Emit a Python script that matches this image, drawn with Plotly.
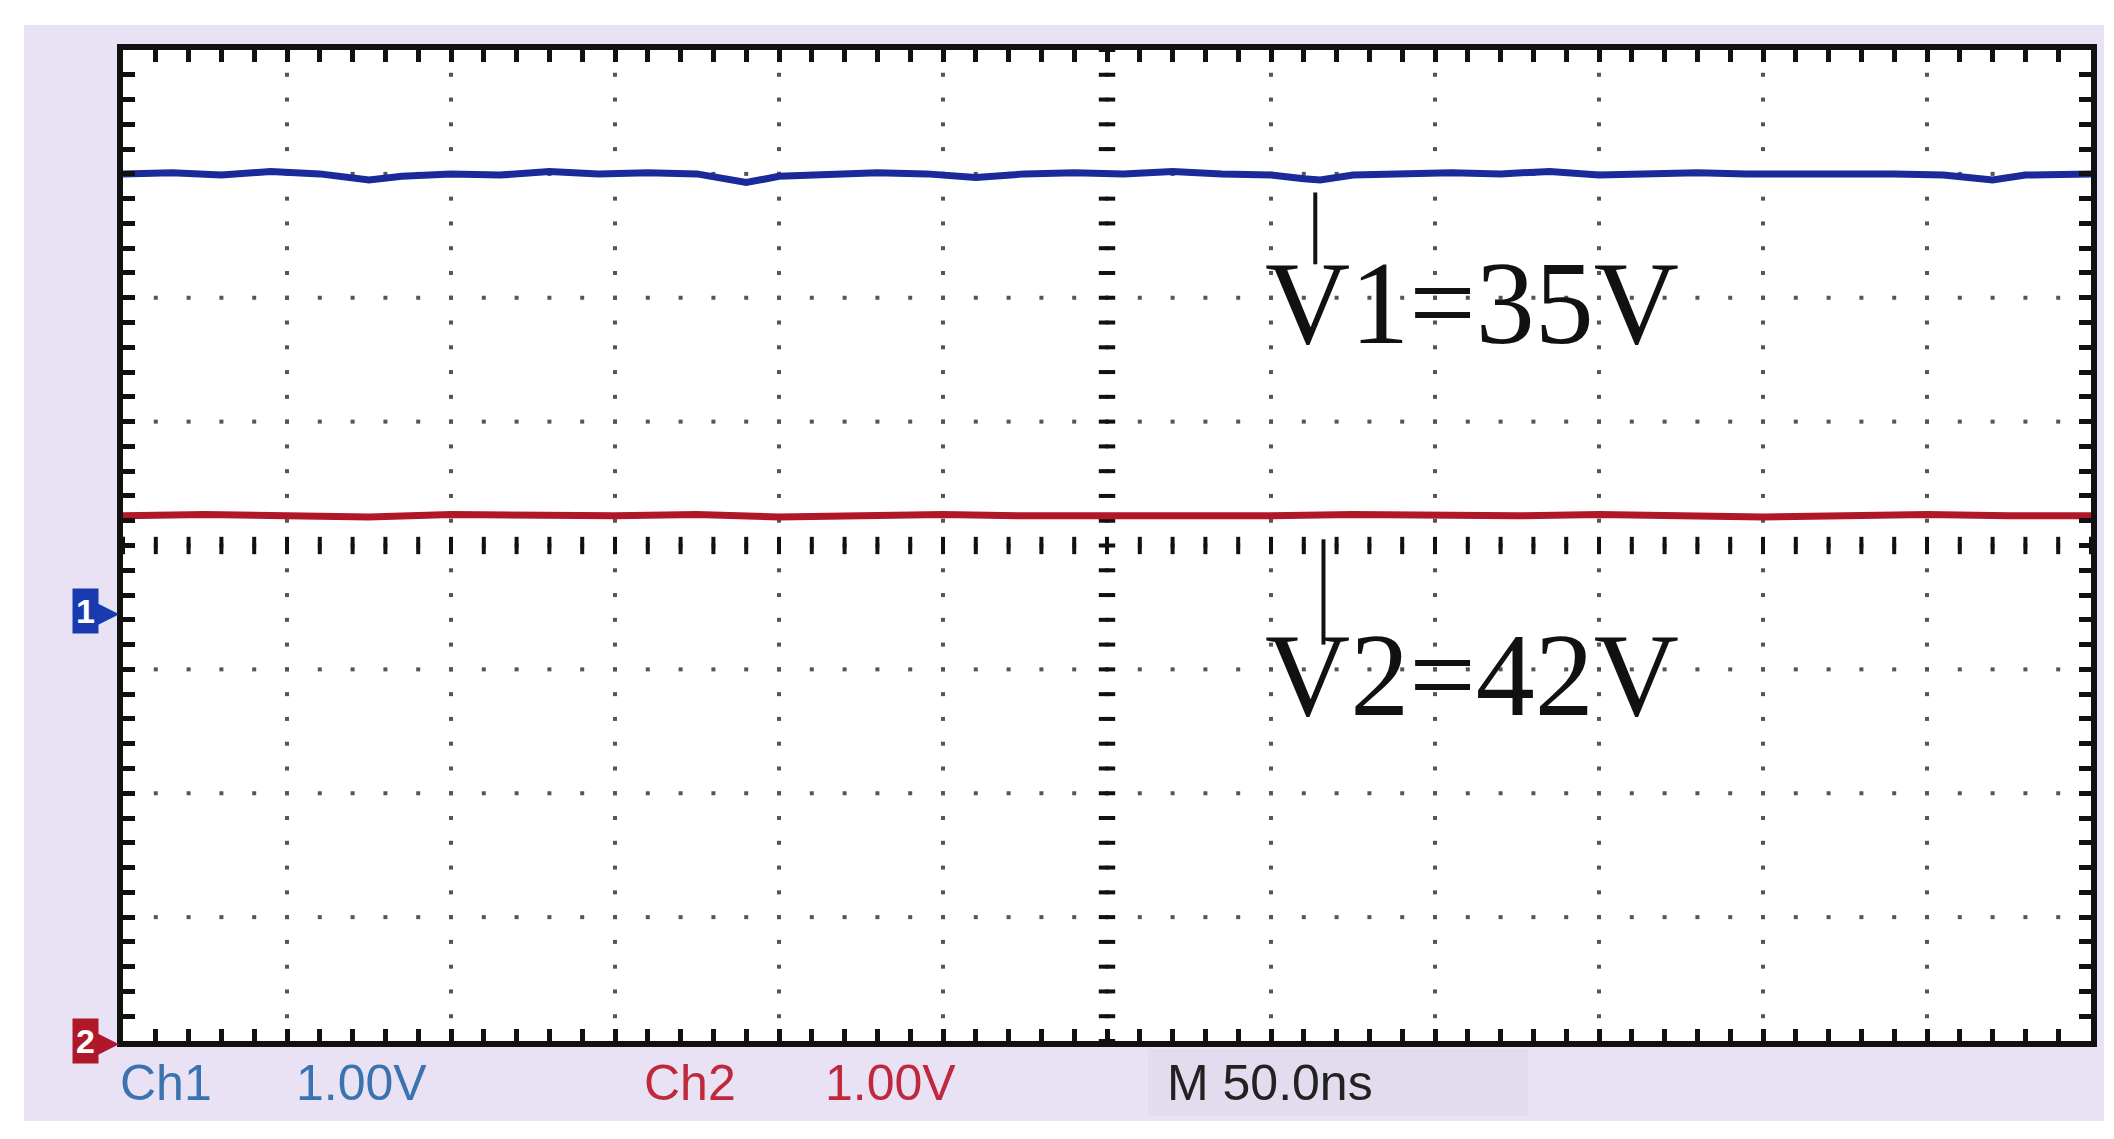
import plotly.graph_objects as go
import numpy as np

# data: time in divisions (0..12), voltage in divisions (-4..4)
t_v1 = [0,0.3,0.6,0.9,1.2,1.4,1.5,1.7,2.0,2.3,2.6,2.9,3.2,3.5,3.7,3.8,4.0,4.3,4.6,4.9,5.2,5.5,5.8,6.1,6.4,6.7,7.0,7.2,7.3,7.5,7.8,8.1,8.4,8.7,9.0,9.3,9.6,9.9,10.2,10.5,10.8,11.1,11.3,11.4,11.6,12.0]
v1 = [3.0,3.01,2.99,3.02,3.0,2.97,2.95,2.98,3.0,2.99,3.02,3.0,3.01,3.0,2.96,2.93,2.98,3.0,3.01,3.0,2.97,3.0,3.01,3.0,3.02,3.0,2.99,2.96,2.95,2.99,3.0,3.01,3.0,3.02,2.99,3.0,3.01,3.0,3.0,3.01,3.0,2.99,2.96,2.95,2.99,3.0]
t_v2 = [0,0.5,1.0,1.5,2.0,2.5,3.0,3.5,4.0,4.5,5.0,5.5,6.0,6.5,7.0,7.5,8.0,8.5,9.0,9.5,10.0,10.5,11.0,11.5,12.0]
v2 = [0.24,0.25,0.24,0.23,0.25,0.24,0.24,0.25,0.23,0.24,0.25,0.24,0.24,0.23,0.24,0.25,0.24,0.24,0.25,0.24,0.23,0.24,0.25,0.24,0.24]
labels = ["V1=35V", "V2=42V"]
label_x = [6.95, 6.95]
label_y = [1.95, -1.05]
footer = [("Ch1", "#3A73B0"), ("1.00V", "#3A73B0"), ("Ch2", "#C0283C"), ("1.00V", "#C0283C"), ("M 50.0ns", "#222222")]
footer_x = [110, 286, 634, 815, 1157]

fig = go.Figure()
gx, gy = [], []
for i in range(1, 12):
    for k in np.arange(0, 8.01, 0.2):
        gx.append(i); gy.append(-4 + k)
for j in range(1, 8):
    for k in np.arange(0, 12.01, 0.2):
        gx.append(k); gy.append(-4 + j)
fig.add_trace(go.Scatter(x=gx, y=gy, mode="markers", marker=dict(size=4, color="#555555", symbol="square"), hoverinfo="skip"))
sx, sy = [], []
for k in np.arange(0, 12.01, 0.2):
    sx += [k, k, None]; sy += [-0.07, 0.07, None]
fig.add_trace(go.Scatter(x=sx, y=sy, mode="lines", line=dict(color="#111", width=4), hoverinfo="skip"))
sx, sy = [], []
for k in np.arange(-4, 4.01, 0.2):
    sx += [5.95, 6.05, None]; sy += [k, k, None]
fig.add_trace(go.Scatter(x=sx, y=sy, mode="lines", line=dict(color="#111", width=4), hoverinfo="skip"))

fig.add_trace(go.Scatter(x=t_v1, y=v1, mode="lines", line=dict(color="#1A2A9A", width=7)))
fig.add_trace(go.Scatter(x=t_v2, y=v2, mode="lines", line=dict(color="#B01828", width=7)))

fig.add_trace(go.Scatter(x=[7.27, 7.27, None, 7.32, 7.32], y=[2.85, 2.27, None, 0.05, -0.8], mode="lines",
                         line=dict(color="#111", width=4), hoverinfo="skip"))

for txt, x, y in zip(labels, label_x, label_y):
    fig.add_annotation(x=x, y=y, text=txt, showarrow=False, xanchor="left", yanchor="middle",
                       font=dict(family="Liberation Serif", size=118, color="#111"))

shapes = [dict(type="rect", xref="paper", yref="paper", x0=-99/1968, x1=1+13/1968, y0=-80/991, y1=1+25/991,
               fillcolor="#E8E2F4", line=dict(width=0), layer="below"),
          dict(type="rect", xref="paper", yref="paper", x0=(1140-115)/1968, x1=(1520-115)/1968, y0=-75/991, y1=-8/991,
               fillcolor="#E2DCEE", line=dict(width=0), layer="below"),
          dict(type="rect", xref="paper", yref="paper", x0=0, x1=1, y0=0, y1=1,
               fillcolor="white", line=dict(width=0), layer="below")]
fig.update_layout(shapes=shapes)

for i, (txt, col) in enumerate(footer):
    fig.add_annotation(xref="paper", yref="paper", x=(footer_x[i] - 115) / 1968, y=-42 / 991, text=txt,
                       showarrow=False, xanchor="left", yanchor="middle",
                       font=dict(family="Liberation Sans", size=50, color=col))

for ch, yv, col in [("1", -0.53, "#1A3AB0"), ("2", -4.0, "#B01828")]:
    fig.add_annotation(x=0, y=yv, text="▶", showarrow=False, xanchor="right", xshift=-2,
                       font=dict(family="DejaVu Sans", size=30, color=col))
    fig.add_annotation(x=0, y=yv, text="<b>" + ch + "</b>", showarrow=False, xanchor="right", xshift=-24,
                       bgcolor=col, font=dict(family="Liberation Sans", size=34, color="white"), borderpad=3)

ax = dict(showgrid=False, zeroline=False, showticklabels=False, showline=True, linecolor="#111", linewidth=6,
          mirror="ticks", ticks="inside", ticklen=12, tickwidth=5, tickcolor="#111",
          minor=dict(ticks="inside", ticklen=12, tickwidth=5, tickcolor="#111"))
fig.update_xaxes(range=[0, 12], dtick=1, minor_dtick=0.2, **ax)
fig.update_yaxes(range=[-4, 4], dtick=1, minor_dtick=0.2, **ax)
fig.update_layout(width=2114, height=1139, showlegend=False, paper_bgcolor="white", plot_bgcolor="rgba(0,0,0,0)",
                  margin=dict(l=115, r=31, t=42, b=106))
fig.write_html("out.html")
